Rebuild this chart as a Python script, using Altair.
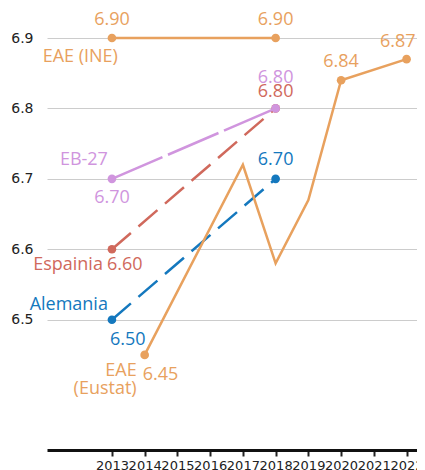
import altair as alt
import pandas as pd

# ---- data ----
ine_years = [2013, 2018]
ine_values = [6.90, 6.90]
eb_years = [2013, 2018]
eb_values = [6.70, 6.80]
es_years = [2013, 2018]
es_values = [6.60, 6.80]
de_years = [2013, 2018]
de_values = [6.50, 6.70]
eus_years = [2014, 2017, 2018, 2019, 2020, 2022]
eus_values = [6.45, 6.72, 6.58, 6.67, 6.84, 6.87]
eus_dot_years = [2014, 2020, 2022]
x_ticks = list(range(2013, 2023))
y_ticks = [6.5, 6.6, 6.7, 6.8, 6.9]

C_ORANGE = "#E8A15E"
C_PURPLE = "#D095DE"
C_RED = "#D0695C"
C_BLUE = "#1478BE"

def frame(years, values):
    return pd.DataFrame({"year": years, "v": values})

ine = frame(ine_years, ine_values)
eb = frame(eb_years, eb_values)
es = frame(es_years, es_values)
de = frame(de_years, de_values)
eus = frame(eus_years, eus_values)
eus_dots = eus[eus["year"].isin(eus_dot_years)]

X = alt.X(
    "year:Q",
    scale=alt.Scale(domain=[2011.017, 2022.318], nice=False, zero=False),
    axis=alt.Axis(
        values=x_ticks, format="d", title=None, grid=False,
        domainColor="#111111", domainWidth=3, tickColor="#222222",
        tickWidth=2, tickSize=6, labelFont="DejaVu Sans", labelFontSize=13,
        labelColor="#222222", labelOverlap=False, labelFlush=False,
        labelPadding=3,
    ),
)
Y = alt.Y(
    "v:Q",
    scale=alt.Scale(domain=[6.315, 6.9426], nice=False, zero=False),
    axis=alt.Axis(
        values=y_ticks, format=".1f", title=None, grid=True,
        gridColor="#cccccc", gridWidth=1, domain=False, ticks=False,
        labelFont="DejaVu Sans", labelFontSize=14, labelColor="#222222",
        labelPadding=14,
    ),
)

def line(df, color, dash=None):
    kw = dict(color=color, strokeWidth=2.5)
    if dash:
        kw["strokeDash"] = dash
    return alt.Chart(df).mark_line(**kw).encode(x=X, y=Y)

def dots(df, color):
    return alt.Chart(df).mark_circle(color=color, size=75, opacity=1).encode(x=X, y=Y)

def vlabel(df, color, dx, dy, align="center"):
    return alt.Chart(df).mark_text(
        font="Open Sans", fontSize=18, color=color, dx=dx, dy=dy,
        align=align, baseline="middle",
    ).encode(x=X, y=Y, text=alt.Text("v:Q", format=".2f"))

def nlabel(df, txt, color, dx, dy, align="right"):
    return alt.Chart(df).mark_text(
        font="Open Sans", fontSize=18, color=color, dx=dx, dy=dy,
        align=align, baseline="middle", text=txt,
    ).encode(x=X, y=Y)

first = lambda d: d.iloc[[0]]
last = lambda d: d.iloc[[-1]]

layers = [
    line(de, C_BLUE, [25, 10]), dots(de, C_BLUE),
    line(es, C_RED, [25, 10]), dots(es, C_RED),
    line(eb, C_PURPLE, [55, 6]), dots(eb, C_PURPLE),
    line(ine, C_ORANGE), dots(ine, C_ORANGE),
    line(eus, C_ORANGE), dots(eus_dots, C_ORANGE),
    # INE labels
    vlabel(ine, C_ORANGE, 0, -18),
    nlabel(first(ine), "EAE (INE)", C_ORANGE, 6, 19),
    # EB-27
    nlabel(first(eb), "EB-27", C_PURPLE, -4, -19),
    vlabel(first(eb), C_PURPLE, 0, 19),
    vlabel(last(eb), C_PURPLE, 0, -30),
    # Espainia
    nlabel(first(es), "Espainia", C_RED, -9, 16),
    vlabel(first(es), C_RED, -5, 16, "left"),
    vlabel(last(es), C_RED, 0, -16),
    # Alemania
    nlabel(first(de), "Alemania", C_BLUE, -4, -15),
    vlabel(first(de), C_BLUE, -2, 20, "left"),
    vlabel(last(de), C_BLUE, 0, -19),
    # Eustat
    nlabel(first(eus), "EAE", C_ORANGE, -8, 16),
    nlabel(first(eus), "(Eustat)", C_ORANGE, -8, 34),
    vlabel(first(eus), C_ORANGE, -2, 20, "left"),
    vlabel(eus[eus["year"] == 2020], C_ORANGE, 0, -18),
    vlabel(eus[eus["year"] == 2022], C_ORANGE, 9, -17, "right"),
]

chart = alt.layer(*layers).properties(
    width=370, height=442,
    autosize=alt.AutoSizeParams(type="none"),
    padding={"left": 39, "top": 0, "right": 0, "bottom": 20},
    background="white",
).configure_view(stroke=None)

chart.save("out.html", embed_options={"renderer": "svg", "actions": False})
